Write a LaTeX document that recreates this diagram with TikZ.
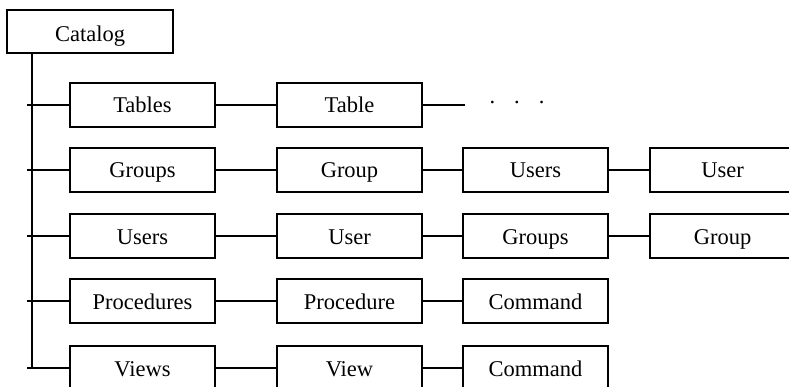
\documentclass[tikz,border=0pt]{standalone}
\usepackage{fontspec}
\setmainfont{Liberation Serif}
\usepackage{tikz}
\usetikzlibrary{positioning}

\begin{document}
\begin{tikzpicture}[x=1pt,y=-1pt,line width=1.6pt,font=\fontsize{22.5}{27}\selectfont,
                   box/.style={draw,minimum width=145pt,minimum height=44pt,inner sep=0pt,
                               text height=16pt,text depth=0pt}]
\useasboundingbox (0,0) rectangle (789,387);
\node[box,minimum width=166pt,minimum height=43pt,text height=20pt] (cat) at (90,31.5) {Catalog};
\coordinate (spine) at (32,0);
\node[box] (tbls) at (142.5,105) {Tables};
\node[box] (tbl) at (349.5,105) {Table};
\node[box] (grps) at (142.5,170) {Groups};
\node[box] (grp) at (349.5,170) {Group};
\node[box] (grpusrs) at (535.5,170) {Users};
\node[box] (grpusr) at (722.5,170) {User};
\node[box] (usrs) at (142.5,236) {Users};
\node[box] (usr) at (349.5,236) {User};
\node[box] (usrgrps) at (535.5,236) {Groups};
\node[box] (usrgrp) at (722.5,236) {Group};
\node[box] (procs) at (142.5,301) {Procedures};
\node[box] (proc) at (349.5,301) {Procedure};
\node[box] (proccmd) at (535.5,301) {Command};
\node[box] (views) at (142.5,368) {Views};
\node[box] (view) at (349.5,368) {View};
\node[box] (viewcmd) at (535.5,368) {Command};
\coordinate[right=42pt of tbl.east] (more);
\node[anchor=base] (dots) at (517,104) {.\hspace{19pt}.\hspace{19pt}.};
\draw (cat.south -| spine) -- (views.west -| spine);
\foreach \n in {tbls,grps,usrs,procs,views}
  \draw ([xshift=-42pt]\n.west) -- (\n.west);
\draw (tbls) -- (tbl) (tbl) -- (more);
\draw (grps) -- (grp) (grp) -- (grpusrs) (grpusrs) -- (grpusr);
\draw (usrs) -- (usr) (usr) -- (usrgrps) (usrgrps) -- (usrgrp);
\draw (procs) -- (proc) (proc) -- (proccmd);
\draw (views) -- (view) (view) -- (viewcmd);
\end{tikzpicture}
\end{document}
